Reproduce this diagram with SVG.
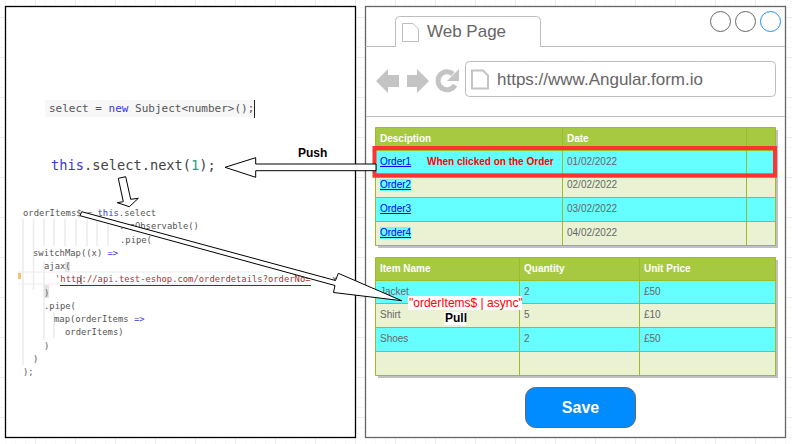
<svg xmlns="http://www.w3.org/2000/svg" width="792" height="444" viewBox="0 0 792 444">
<style>
text{font-family:"Liberation Sans",Arial,sans-serif}
.code{font-family:"DejaVu Sans Mono","Liberation Mono",monospace;font-size:8.850px;fill:#555}
.kw{fill:#3a3ae0}
.guide{stroke:#ececec;stroke-width:1.5;fill:none}
.panel{fill:#fff;stroke-width:1.3}
.thin{fill:none;stroke:#bdbdbd;stroke-width:1}
.icon{fill:#c4c4c4}
.tb{fill:none;stroke:#9bbb2b;stroke-width:1}
.h{font-size:10px;font-weight:bold;fill:#fff}
.c{font-size:10px;fill:#666}
.l{font-size:10px;fill:#00f;text-decoration:underline}
.arr{fill:#fff;stroke:#000;stroke-width:1}
</style>
<defs>
<pattern id="minor" width="10" height="10" patternUnits="userSpaceOnUse" x="5" y="7"><path d="M.5 0V10M0 .5H10" stroke="#f8f8f8" fill="none"/></pattern>
<pattern id="major" width="40" height="40" patternUnits="userSpaceOnUse" x="35" y="17"><path d="M.5 0V40M0 .5H40" stroke="#ececec" fill="none"/></pattern>
</defs>
<rect width="792" height="444" fill="#fff"/>
<g id="grid">
<rect width="792" height="444" fill="url(#minor)"/>
<rect width="792" height="444" fill="url(#major)"/>
</g>
<g id="code-panel">
<rect class="panel" x="5.500" y="6.500" width="350" height="431" stroke="#000"/>
<rect x="45" y="100" width="210" height="17" fill="#f7f7f7"/>
<path d="M254.500 100V118" stroke="#222" fill="none"/>
<text x="49" y="112" class="code" style="font-size:11px">select = <tspan class="kw">new</tspan> Subject&lt;number&gt;();</text>
<text x="51" y="170" style="font-family:'DejaVu Sans Mono','Liberation Mono',monospace;font-size:13.700px" fill="#444"><tspan fill="#3a3ad8">this</tspan>.select.next(<tspan fill="#2a9d8f">1</tspan>);</text>
<path class="guide" d="M23 219V365M33.500 219V290M44 219V246M54 219V246M65 219V246M76 219V246M87 219V246M97 219V246M108 219V246M44 262V340M54 312V338"/>
<path d="M18 272H265M18 284H265" stroke="#ececec" fill="none"/>
<rect x="18" y="273" width="3" height="6" fill="#f0c36d"/>
<rect x="65" y="262" width="5" height="10" fill="#e4e4e4"/>
<rect x="44" y="285" width="5" height="13" fill="#e4e4e4"/>
<text x="23" y="216" class="code">orderItems$ = <tspan class="kw">this</tspan>.select</text>
<text x="119" y="229" class="code">.asObservable()</text>
<text x="120" y="243" class="code">.pipe(</text>
<text x="33" y="256" class="code">switchMap((x) <tspan class="kw">=&gt;</tspan></text>
<text x="44" y="269" class="code">ajax(</text>
<text x="55" y="282" class="code"><tspan fill="#a33">'http://api.test-eshop.com/orderdetails?orderNo='</tspan> + x</text>
<path d="M60 285.500H311" stroke="#8b1a1a" stroke-width="1" fill="none"/>
<path d="M81 275V284" stroke="#444" fill="none"/>
<text x="44" y="296" class="code">)</text>
<text x="44" y="309" class="code">.pipe(</text>
<text x="54" y="322" class="code">map(orderItems <tspan class="kw">=&gt;</tspan></text>
<text x="65" y="335" class="code">orderItems)</text>
<text x="44" y="349" class="code">)</text>
<text x="33" y="362" class="code">)</text>
<text x="23" y="375" class="code">);</text>
</g>
<g id="browser">
<rect class="panel" x="365.500" y="6.500" width="420" height="431" stroke="#666"/>
<path class="thin" d="M365.500 46.500H395.500V20.500Q395.500 16.500 399.500 16.500H536.500Q540.500 16.500 540.500 20.500V46.500H785M366 116.500H785"/>
<path class="thin" d="M402.500 23.500H413L418.500 29V41.500H402.500Z"/>
<text x="427" y="37" font-size="17" fill="#666">Web Page</text>
<circle cx="720.500" cy="21.500" r="10" fill="#fff" stroke="#666"/>
<circle cx="745.500" cy="21.500" r="10" fill="#fff" stroke="#666"/>
<circle cx="770.500" cy="21.500" r="10" fill="#fff" stroke="#1e90ff"/>
<path class="icon" d="M376 81L388 69V75H399V87H388V93Z"/>
<path class="icon" d="M429 81L417 69V75H407V87H417V93Z"/>
<path d="M455 85A9 9 0 1 1 453 74" fill="none" stroke="#c4c4c4" stroke-width="5"/>
<path class="icon" d="M459 69V81H447Z"/>
<rect class="thin" x="465.500" y="61.500" width="310" height="35" rx="4"/>
<path d="M472 70.500H483L488 75.500V88.500H472Z" fill="none" stroke="#c4c4c4" stroke-width="2"/>
<text x="497" y="85" font-size="17" fill="#666">https://www.Angular.form.io</text>
</g>
<g id="orders-table">
<rect x="378" y="130" width="400" height="118" fill="#c0c0c0"/>
<rect x="375.500" y="127.500" width="400" height="23" fill="#a7c942"/>
<rect x="375.500" y="150.500" width="400" height="23" fill="#66ffff"/>
<rect x="375.500" y="173.500" width="400" height="24" fill="#eaf2d3"/>
<rect x="375.500" y="197.500" width="400" height="24" fill="#66ffff"/>
<rect x="375.500" y="221.500" width="400" height="24" fill="#eaf2d3"/>
<path class="tb" d="M375.500 127.500H775.500V245.500H375.500ZM375.500 150.500H775.500M375.500 173.500H775.500M375.500 197.500H775.500M375.500 221.500H775.500M562.500 127.500V245.500M746.500 127.500V245.500"/>
<text x="380" y="142" class="h">Desciption</text>
<text x="567" y="142" class="h">Date</text>
<text x="380" y="165" class="l">Order1</text>
<text x="427" y="165" font-size="10" font-weight="bold" fill="#f00">When clicked on the Order</text>
<text x="567" y="165" class="c">01/02/2022</text>
<rect x="380" y="179" width="31" height="12" fill="#66ffff"/>
<text x="380" y="188" class="l">Order2</text>
<text x="567" y="188" class="c">02/02/2022</text>
<text x="380" y="212" class="l">Order3</text>
<text x="567" y="212" class="c">03/02/2022</text>
<rect x="380" y="227" width="31" height="12" fill="#66ffff"/>
<text x="380" y="236" class="l">Order4</text>
<text x="567" y="236" class="c">04/02/2022</text>
<rect x="374.500" y="148" width="400.500" height="27.700" fill="none" stroke="#ff3333" stroke-width="4"/>
</g>
<g id="items-table">
<rect x="378" y="260" width="400" height="118" fill="#c0c0c0"/>
<rect x="375.500" y="257.500" width="400" height="23" fill="#a7c942"/>
<rect x="375.500" y="280.500" width="400" height="23" fill="#66ffff"/>
<rect x="375.500" y="303.500" width="400" height="24" fill="#eaf2d3"/>
<rect x="375.500" y="327.500" width="400" height="24" fill="#66ffff"/>
<rect x="375.500" y="351.500" width="400" height="24" fill="#eaf2d3"/>
<path class="tb" d="M375.500 257.500H775.500V375.500H375.500ZM375.500 280.500H775.500M375.500 303.500H775.500M375.500 327.500H775.500M375.500 351.500H775.500M519.500 257.500V375.500M639.500 257.500V375.500"/>
<text x="380" y="272" class="h">Item Name</text>
<text x="524" y="272" class="h">Quantity</text>
<text x="644" y="272" class="h">Unit Price</text>
<text x="380" y="295" class="c">Jacket</text>
<text x="524" y="295" class="c">2</text>
<text x="644" y="295" class="c">£50</text>
<text x="380" y="318" class="c">Shirt</text>
<text x="524" y="318" class="c">5</text>
<text x="644" y="318" class="c">£10</text>
<text x="380" y="342" class="c">Shoes</text>
<text x="524" y="342" class="c">2</text>
<text x="644" y="342" class="c">£50</text>
</g>
<g id="save-button">
<rect x="525.500" y="387.500" width="110" height="40" rx="10" fill="#008cff" stroke="#666"/>
<text x="580.500" y="413" font-size="16" font-weight="bold" fill="#fff" text-anchor="middle">Save</text>
</g>
<g id="connectors">
<path class="arr" d="M376 164H255.700V157.700L225 167.300L255.700 177.300V170.700H376Z"/>
<path class="arr" d="M118.300 178.300L125.700 176.700L130.700 199.300L138.300 198.300L129.300 206.700L117.300 202.700L123.300 201.700Z"/>
<path class="arr" d="M81.700 211.700L335.500 280.500L338.300 273.300L401.700 300.700L333.500 292.500L335 285.500L80 215.700Z"/>
</g>
<g id="labels">
<text x="298" y="157" font-size="12" font-weight="bold" fill="#000">Push</text>
<rect x="408" y="296" width="114" height="14" fill="#fff"/>
<text x="409" y="307" font-size="12" fill="#f00">"orderItems$ | async"</text>
<rect x="444" y="312" width="22" height="13" fill="#fff"/>
<text x="445" y="322" font-size="12" font-weight="bold" fill="#000">Pull</text>
</g>
</svg>
